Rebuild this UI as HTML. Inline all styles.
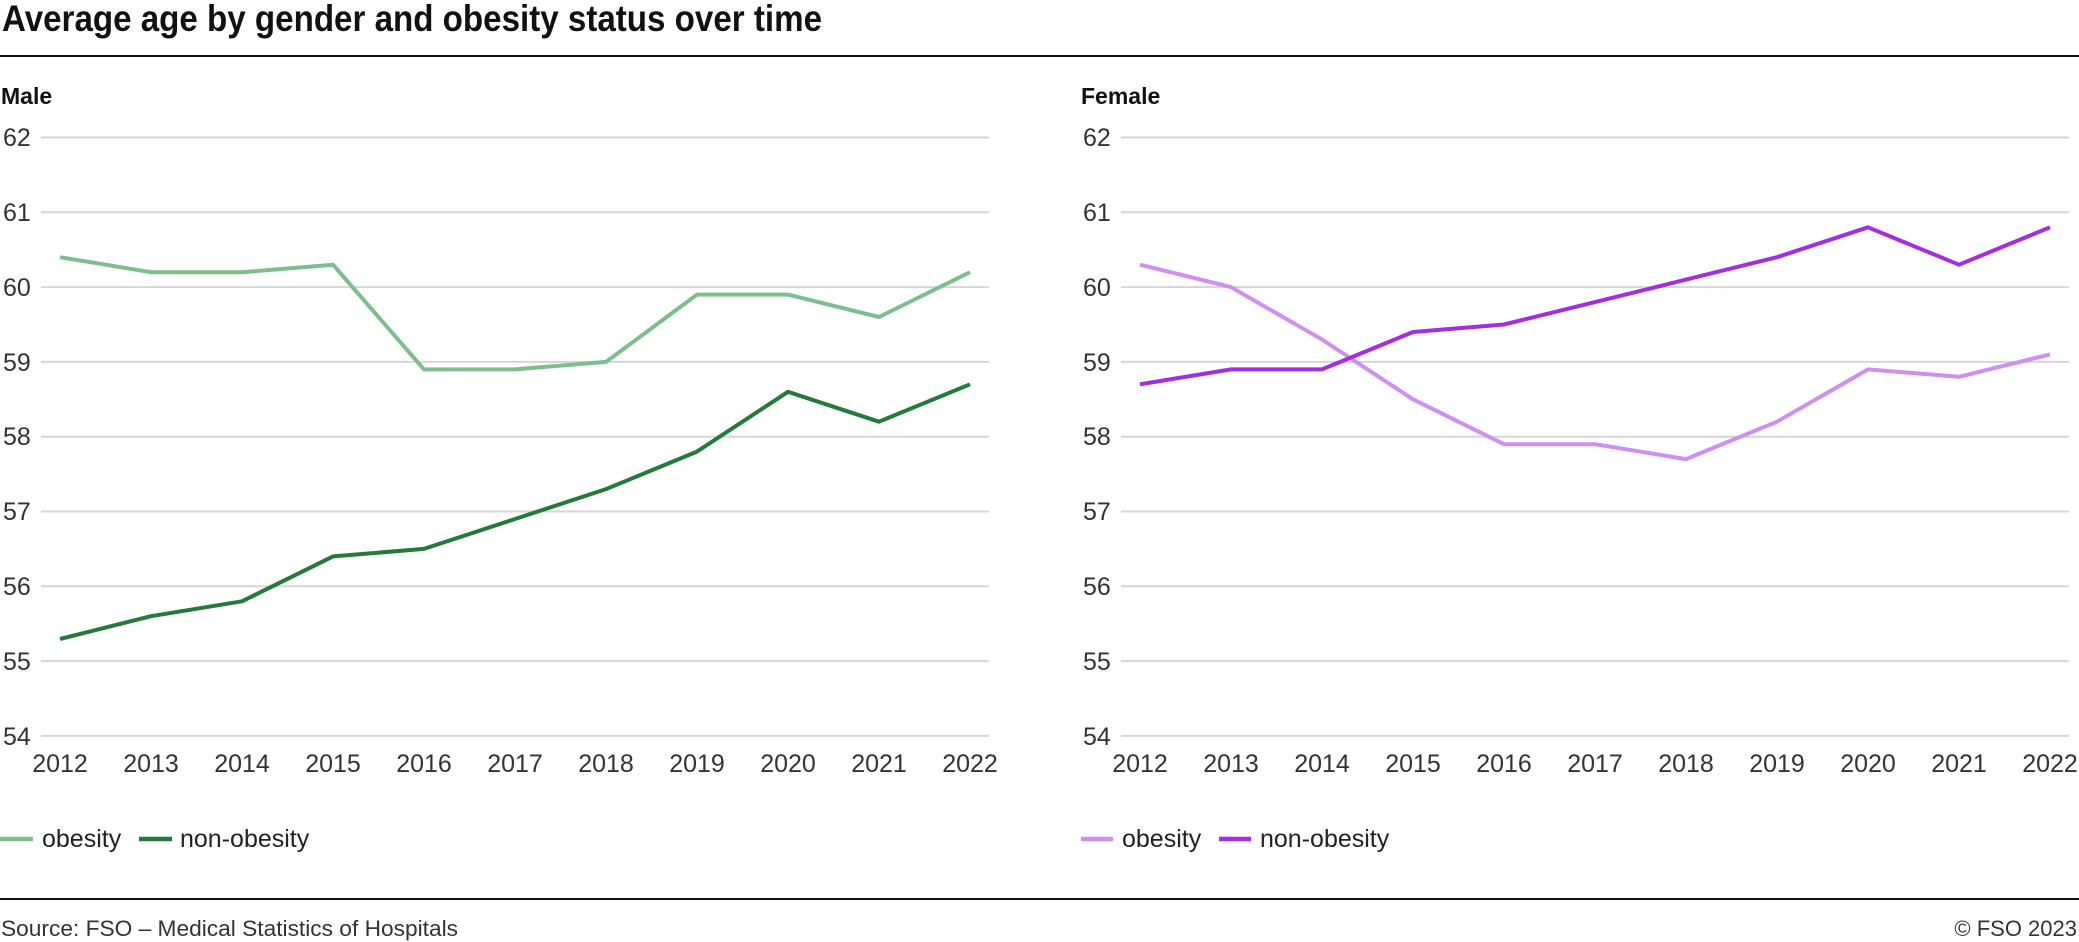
<!DOCTYPE html>
<html><head><meta charset="utf-8"><style>
html,body{margin:0;padding:0;background:#fff;}
svg{display:block;font-family:"Liberation Sans",sans-serif;}
.yl{font-size:25px;fill:#333;}
.xl{font-size:25px;fill:#333;text-anchor:middle;}
.g{stroke:#d6d6d6;stroke-width:2;}
.lg{font-size:25px;fill:#222;}
</style></head><body>
<svg width="2079" height="942" viewBox="0 0 2079 942">
<text x="2" y="31" font-size="37" font-weight="bold" fill="#111" textLength="820" lengthAdjust="spacingAndGlyphs">Average age by gender and obesity status over time</text>
<line x1="0" y1="56" x2="2079" y2="56" stroke="#111" stroke-width="2"/>
<text x="1" y="104" font-size="23" font-weight="bold" fill="#111">Male</text>
<text x="1081" y="104" font-size="23" font-weight="bold" fill="#111">Female</text>
<g id="L">
<line class="g" x1="41" x2="989" y1="137.5" y2="137.5"/>
<line class="g" x1="41" x2="989" y1="212.3" y2="212.3"/>
<line class="g" x1="41" x2="989" y1="287.1" y2="287.1"/>
<line class="g" x1="41" x2="989" y1="361.9" y2="361.9"/>
<line class="g" x1="41" x2="989" y1="436.7" y2="436.7"/>
<line class="g" x1="41" x2="989" y1="511.5" y2="511.5"/>
<line class="g" x1="41" x2="989" y1="586.3" y2="586.3"/>
<line class="g" x1="41" x2="989" y1="661.1" y2="661.1"/>
<line class="g" x1="41" x2="989" y1="735.9" y2="735.9"/>
<text class="yl" x="3" y="146">62</text><text class="yl" x="3" y="221">61</text><text class="yl" x="3" y="296">60</text><text class="yl" x="3" y="371">59</text><text class="yl" x="3" y="445">58</text><text class="yl" x="3" y="520">57</text><text class="yl" x="3" y="595">56</text><text class="yl" x="3" y="670">55</text><text class="yl" x="3" y="745">54</text>
<text class="xl" x="60" y="772">2012</text><text class="xl" x="151" y="772">2013</text><text class="xl" x="242" y="772">2014</text><text class="xl" x="333" y="772">2015</text><text class="xl" x="424" y="772">2016</text><text class="xl" x="515" y="772">2017</text><text class="xl" x="606" y="772">2018</text><text class="xl" x="697" y="772">2019</text><text class="xl" x="788" y="772">2020</text><text class="xl" x="879" y="772">2021</text><text class="xl" x="970" y="772">2022</text>
</g>
<use href="#L" x="1080"/>
<g fill="none" stroke-width="4" stroke-linejoin="round">
<polyline stroke="#7dbf8c" points="60,257.2 151,272.2 242,272.2 333,264.7 424,369.4 515,369.4 606,361.9 697,294.6 788,294.6 879,317.0 970,272.2"/>
<polyline stroke="#237a3a" points="60,639 151,616.2 242,601.3 333,556.4 424,548.9 515,519 606,489.1 697,451.6 788,391.8 879,421.7 970,384.3"/>
<polyline stroke="#cf8ef0" points="1140,264.7 1231,287.1 1322,339.5 1413,399.3 1504,444.2 1595,444.2 1686,459.1 1777,421.7 1868,369.4 1959,376.8 2050,354.4"/>
<polyline stroke="#a32de0" points="1140,384.3 1231,369.4 1322,369.4 1413,332.0 1504,324.5 1595,302.1 1686,279.6 1777,257.2 1868,227.3 1959,264.7 2050,227.3"/>
</g>
<g stroke-width="4.5">
<line x1="0" x2="33" y1="839" y2="839" stroke="#7dbf8c"/><line x1="139" x2="172" y1="839" y2="839" stroke="#237a3a"/>
<line x1="1081" x2="1113" y1="839" y2="839" stroke="#cf8ef0"/><line x1="1219" x2="1251" y1="839" y2="839" stroke="#a32de0"/>
</g>
<text class="lg" x="42" y="847">obesity</text><text class="lg" x="180" y="847">non-obesity</text>
<text class="lg" x="1122" y="847">obesity</text><text class="lg" x="1260" y="847">non-obesity</text>
<line x1="0" y1="899" x2="2079" y2="899" stroke="#111" stroke-width="2"/>
<text x="1" y="936" font-size="22" fill="#333" textLength="457" lengthAdjust="spacingAndGlyphs">Source: FSO – Medical Statistics of Hospitals</text>
<text x="2077" y="936" font-size="22" fill="#333" text-anchor="end">© FSO 2023</text>
</svg>
</body></html>
